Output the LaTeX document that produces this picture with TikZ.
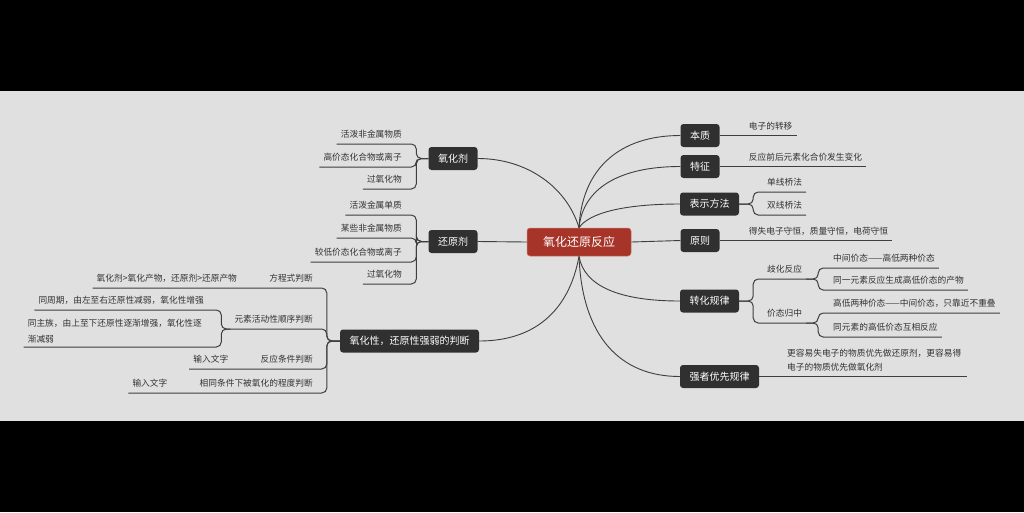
\documentclass[tikz,border=0pt]{standalone}
\usepackage{fontspec}
\newfontfamily\cjk{Noto Sans CJK SC}
\usetikzlibrary{calc}
\pgfdeclarelayer{bg}
\pgfdeclarelayer{edges}
\pgfsetlayers{bg,edges,main}
\definecolor{bgray}{RGB}{224,224,224}
\definecolor{topicfill}{RGB}{48,48,48}
\definecolor{rootfill}{RGB}{166,52,40}
\definecolor{rootline}{RGB}{205,120,110}
\definecolor{linecol}{RGB}{62,62,62}
\definecolor{leafcol}{RGB}{50,50,50}
\begin{document}
\begin{tikzpicture}[x=1pt,y=-1pt,
  conn/.style={draw=linecol, line width=1pt, rounded corners=5pt},
  branch/.style={draw=linecol, line width=0.9pt},
  rootbox/.style={fill=rootfill, draw=rootline, line width=0.5pt, rounded corners=3pt, text=white, font=\cjk\fontsize{12}{14}\selectfont, minimum width=104pt, minimum height=28pt, inner sep=0pt},
  topic/.style={fill=topicfill, rounded corners=3pt, text=white, font=\cjk\fontsize{10}{12}\selectfont, minimum height=23pt, inner xsep=9.5pt, inner ysep=0pt},
  leaf/.style={text=leafcol, font=\cjk\fontsize{8.7}{11}\selectfont, inner xsep=4pt, inner ysep=4.2pt, text height=7.5pt, text depth=2pt},
  leafm/.style={text=leafcol, inner xsep=4pt, inner ysep=0pt, align=left}
]
\useasboundingbox (0,0) rectangle (1024,512);
\begin{pgfonlayer}{bg}
\fill[black] (0,0) rectangle (1024,512);
\fill[bgray] (0,91) rectangle (1024,421);
\end{pgfonlayer}

% root and topics
\node[rootbox] (root) at (579,242) {氧化还原反应};
\node[topic] (oxj) at (453,158.5) {氧化剂};
\node[topic] (hyj) at (453,241.5) {还原剂};
\node[topic] (pd) at (409.5,341) {氧化性，还原性强弱的判断};
\node[topic] (bz) at (700,135.5) {本质};
\node[topic] (tz) at (700,166.5) {特征};
\node[topic] (bs) at (709.5,204) {表示方法};
\node[topic] (yz) at (700,240.5) {原则};
\node[topic] (zh) at (709.5,301) {转化规律};
\node[topic] (qz) at (719.5,376.5) {强者优先规律};

% left leaves
\node[leaf, anchor=south east] (a1) at (406,144) {活泼非金属物质};
\node[leaf, anchor=south east] (a2) at (406,167) {高价态化合物或离子};
\node[leaf, anchor=south east] (a3) at (406,189) {过氧化物};
\node[leaf, anchor=south east] (b1) at (406,215) {活泼金属单质};
\node[leaf, anchor=south east] (b2) at (406,238) {某些非金属物质};
\node[leaf, anchor=south east] (b3) at (406,262) {较低价态化合物或离子};
\node[leaf, anchor=south east] (b4) at (406,284) {过氧化物};
\node[leaf, anchor=south east] (c1) at (317,288) {方程式判断};
\node[leaf, anchor=south east] (c1s) at ($(c1.south west)+(-24,0)$) {氧化剂>氧化产物，还原剂>还原产物};
\node[leaf, anchor=south east] (c2) at (317,329) {元素活动性顺序判断};
\node[leaf, anchor=south east] (c2a) at (208,310) {同周期，由左至右还原性减弱，氧化性增强};
\node[leafm, anchor=north east, text width=176pt, font=\cjk\fontsize{8.7}{16}\selectfont] (c2b) at (208,318.6) {同主族，由上至下还原性逐渐增强，氧化性逐\\渐减弱};
\node[leaf, anchor=south east] (c3) at (317,369) {反应条件判断};
\node[leaf, anchor=south east] (c3s) at ($(c3.south west)+(-24,0)$) {输入文字};
\node[leaf, anchor=south east] (c4) at (317,393) {相同条件下被氧化的程度判断};
\node[leaf, anchor=south east] (c4s) at ($(c4.south west)+(-24,0)$) {输入文字};

% right leaves
\node[leaf, anchor=south west] (r1) at ([xshift=25pt]bz.east) {电子的转移};
\node[leaf, anchor=south west] (r2) at ([xshift=25pt]tz.east) {反应前后元素化合价发生变化};
\node[leaf, anchor=south west] (r3a) at (763,192) {单线桥法};
\node[leaf, anchor=south west] (r3b) at (763,215) {双线桥法};
\node[leaf, anchor=south west] (r4) at ([xshift=25pt]yz.east) {得失电子守恒，质量守恒，电荷守恒};
\node[leaf, anchor=south west] (q1) at (763,279) {歧化反应};
\node[leaf, anchor=south west] (q1a) at (829,268) {中间价态——高低两种价态};
\node[leaf, anchor=south west] (q1b) at (829,290) {同一元素反应生成高低价态的产物};
\node[leaf, anchor=south west] (q2) at (763,323) {价态归中};
\node[leaf, anchor=south west] (q2a) at (829,313) {高低两种价态——中间价态，只靠近不重叠};
\node[leaf, anchor=south west] (q2b) at (829,337) {同元素的高低价态互相反应};
\node[leafm, anchor=north west, text width=176pt, font=\cjk\fontsize{8.7}{14}\selectfont] (s1) at (783,348.6) {更容易失电子的物质优先做还原剂，更容易得\\电子的物质优先做氧化剂};

\begin{pgfonlayer}{edges}
% main branches
\draw[branch] (root.north) .. controls +(-12,-40) and +(50,0) .. (oxj.east);
\draw[branch] (root.west) -- (hyj.east);
\draw[branch] (root.south) .. controls +(-10,55) and +(55,0) .. (pd.east);
\draw[branch] (root.north) .. controls +(3,-60) and +(-60,0) .. (bz.west);
\draw[branch] (root.north) .. controls +(4,-40) and +(-60,0) .. (tz.west);
\draw[branch] (root.north) .. controls +(10,-15) and +(-55,0) .. (bs.west);
\draw[branch] (root.east) -- (yz.west);
\draw[branch] (root.south) .. controls +(5,30) and +(-60,0) .. (zh.west);
\draw[branch] (root.south) .. controls +(3,80) and +(-60,0) .. (qz.west);
\end{pgfonlayer}

% left sub-branches
\draw[conn] (oxj.west) -- ++(-12,0) |- (a1.south west);
\draw[conn] (oxj.west) -- ++(-12,0) |- (a2.south west);
\draw[conn] (oxj.west) -- ++(-12,0) |- (a3.south west);
\draw[conn] (hyj.west) -- ++(-12,0) |- (b1.south west);
\draw[conn] (hyj.west) -- ++(-12,0) |- (b2.south west);
\draw[conn] (hyj.west) -- ++(-12,0) |- (b3.south west);
\draw[conn] (hyj.west) -- ++(-12,0) |- (b4.south west);
\draw[conn] (pd.west) -- ++(-13,0) |- (c1s.south west);
\draw[conn] (pd.west) -- ++(-13,0) |- (c2.south west) -- ++(-9,0) |- (c2a.south west);
\draw[conn] (c2.south west) -- ++(-9,0) |- (c2b.west |- 0,347);
\draw[conn] (pd.west) -- ++(-13,0) |- (c3s.south west);
\draw[conn] (pd.west) -- ++(-13,0) |- (c4s.south west);

% right sub-branches
\draw[conn] (bz.east) -- (r1.south east);
\draw[conn] (tz.east) -- (r2.south east);
\draw[conn] (bs.east) -- ++(14,0) |- (r3a.south east);
\draw[conn] (bs.east) -- ++(14,0) |- (r3b.south east);
\draw[conn] (yz.east) -- (r4.south east);
\draw[conn] (zh.east) -- ++(14,0) |- (q1.south east) -- ++(12,0) |- (q1a.south east);
\draw[conn] (q1.south east) -- ++(12,0) |- (q1b.south east);
\draw[conn] (zh.east) -- ++(14,0) |- (q2.south east) -- ++(12,0) |- (q2a.south east);
\draw[conn] (q2.south east) -- ++(12,0) |- (q2b.south east);
\draw[conn] (qz.east) -- (qz.east -| s1.east);
\end{tikzpicture}
\end{document}
